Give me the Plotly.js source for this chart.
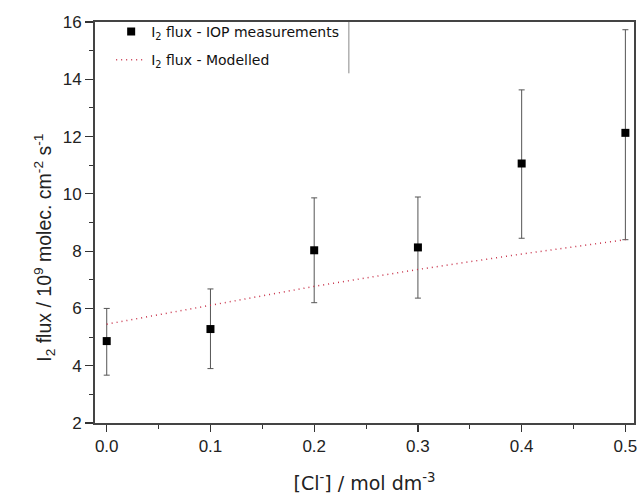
<!DOCTYPE html>
<html>
<head>
<meta charset="utf-8">
<script src="https://cdn.plot.ly/plotly-3.0.1.min.js"></script>
<style>html,body{margin:0;padding:0;background:#fff;}#chart{width:640px;height:494px;}</style>
</head>
<body>
<div id="chart"></div>
<script>
// Data
const chloride = [0.0, 0.1, 0.2, 0.3, 0.4, 0.5];
const fluxMeasured = [4.86, 5.28, 8.03, 8.13, 11.06, 12.13];
const fluxErrPlus = [1.14, 1.40, 1.83, 1.76, 2.57, 3.60];
const fluxErrMinus = [1.19, 1.38, 1.83, 1.77, 2.61, 3.73];
const modelX = [0.0, 0.1, 0.2, 0.3, 0.4, 0.5];
const fluxModelled = [5.45, 6.11, 6.77, 7.36, 7.90, 8.40];
const xTicks = [0.0, 0.1, 0.2, 0.3, 0.4, 0.5];
const xTickText = ['0.0', '0.1', '0.2', '0.3', '0.4', '0.5'];
const yTicks = [2, 4, 6, 8, 10, 12, 14, 16];

const FONT = 'Liberation Sans, Arial, sans-serif';
const WIDE = 'DejaVu Sans, sans-serif';

const traces = [
  {
    x: chloride, y: fluxMeasured, type: 'scatter', mode: 'markers',
    name: 'I<sub>2</sub> flux - IOP measurements',
    legendgroup: 'a',
    marker: {symbol: 'square', size: 8, color: '#000'},
    error_y: {type: 'data', symmetric: false, array: fluxErrPlus, arrayminus: fluxErrMinus,
              color: '#555', thickness: 1, width: 3}
  },
  {
    x: modelX, y: fluxModelled, type: 'scatter', mode: 'lines',
    name: 'I<sub>2</sub> flux - Modelled',
    legendgroup: 'b',
    line: {color: '#c8324a', width: 1.5, dash: '1px,4px'}
  }
];

const layout = {
  width: 640, height: 494,
  margin: {l: 95, r: 6, t: 22, b: 71},
  paper_bgcolor: '#fff', plot_bgcolor: '#fff',
  font: {family: FONT, color: '#222', size: 16},
  showlegend: true,
  legend: {x: 0.03, y: 1.015, xanchor: 'left', yanchor: 'top', bgcolor: 'rgba(0,0,0,0)',
           borderwidth: 0, font: {size: 14, family: WIDE, color: '#111'},
           traceorder: 'grouped', tracegroupgap: 7},
  xaxis: {
    range: [-0.0113, 0.5083], tickvals: xTicks, ticktext: xTickText,
    ticks: 'outside', ticklen: 7, tickwidth: 1.2, tickcolor: '#333',
    minor: {dtick: 0.05, ticks: 'outside', ticklen: 4, tickwidth: 1, tickcolor: '#333'},
    showline: true, linecolor: '#444', linewidth: 2, mirror: true,
    showgrid: false, zeroline: false,
    tickfont: {size: 17, family: FONT, color: '#222'},
    title: {text: '[Cl<sup>-</sup>] / mol dm<sup>-3</sup>', font: {size: 19, family: WIDE, color: '#222'}, standoff: 23}
  },
  yaxis: {
    range: [2, 16], tickvals: yTicks,
    ticks: 'outside', ticklen: 8, tickwidth: 1.2, tickcolor: '#333',
    minor: {dtick: 1, ticks: 'outside', ticklen: 4, tickwidth: 1, tickcolor: '#333'},
    showline: true, linecolor: '#444', linewidth: 2, mirror: true,
    showgrid: false, zeroline: false,
    tickfont: {size: 17, family: FONT, color: '#222'}
  },
  annotations: [
    {text: 'I<sub>2</sub> flux / 10<sup>9</sup> molec. cm<sup>-2</sup> s<sup>-1</sup>',
     xref: 'paper', yref: 'paper', x: -0.0928, y: 0.437, xanchor: 'center', yanchor: 'middle',
     textangle: -90, showarrow: false, font: {size: 19.5, family: FONT, color: '#222'}}
  ],
  shapes: [
    {type: 'line', xref: 'paper', yref: 'paper', x0: 0.471, x1: 0.471, y0: 1, y1: 0.872,
     line: {color: '#888', width: 1}}
  ]
};

Plotly.newPlot('chart', traces, layout, {staticPlot: true, displayModeBar: false});
</script>
</body>
</html>
